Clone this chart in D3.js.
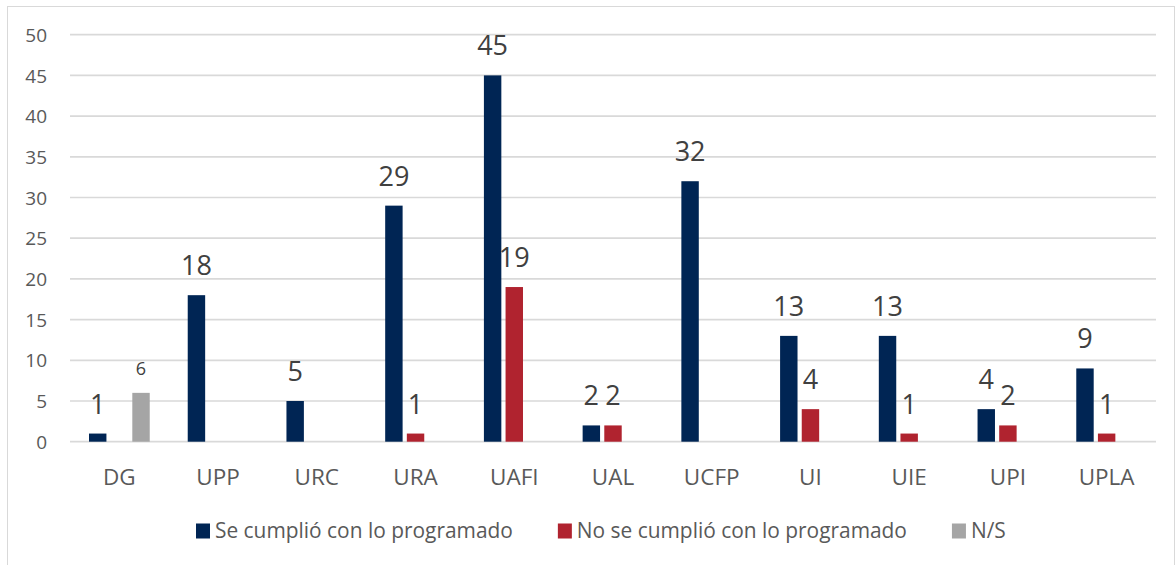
<!DOCTYPE html>
<html>
<head>
<meta charset="utf-8">
<script src="https://cdn.jsdelivr.net/npm/d3@7"></script>
<style>
  html, body { margin: 0; padding: 0; background: #fff; }
  svg { display: block; }
</style>
</head>
<body>
<svg id="chart" width="1176" height="565"></svg>
<script>
const categories = ["DG", "UPP", "URC", "URA", "UAFI", "UAL", "UCFP", "UI", "UIE", "UPI", "UPLA"];
const seriesNames = ["Se cumplió con lo programado", "No se cumplió con lo programado", "N/S"];
const cumplio   = [1, 18, 5, 29, 45, 2, 32, 13, 13, 4, 9];
const noCumplio = [null, null, null, 1, 19, 2, null, 4, 1, 2, 1];
const noSabe    = [6, null, null, null, null, null, null, null, null, null, null];
const yTicks = [0, 5, 10, 15, 20, 25, 30, 35, 40, 45, 50];

const colors = ["#002554", "#B0232F", "#A5A5A5"];
const seriesValues = [cumplio, noCumplio, noSabe];

const svg = d3.select("#chart");
const font = "'Open Sans', 'Noto Sans', sans-serif";

// chart frame
svg.append("rect")
  .attr("x", 7.5).attr("y", 6.5)
  .attr("width", 1167).attr("height", 570)
  .attr("fill", "#fff").attr("stroke", "#D9D9D9").attr("stroke-width", 1);

const plot = { left: 70, right: 1156, top: 34.7, bottom: 441.7 };

const x0 = d3.scaleBand().domain(categories).range([plot.left, plot.right]).paddingInner(0).paddingOuter(0);
const bw = x0.bandwidth();
const x1 = d3.scaleBand().domain(seriesNames).range([19, bw - 19]).paddingInner(0.195).paddingOuter(0);
const y = d3.scaleLinear().domain([0, 50]).range([plot.bottom, plot.top]);

// gridlines
svg.append("g").selectAll("line").data(yTicks).join("line")
  .attr("x1", plot.left).attr("x2", plot.right)
  .attr("y1", d => y(d)).attr("y2", d => y(d))
  .attr("stroke", "#D9D9D9").attr("stroke-width", 1.7);

// y axis labels
const yAxis = d3.axisLeft(y).tickValues(yTicks).tickSize(0).tickPadding(0);
const yg = svg.append("g").attr("transform", `translate(47,0)`).call(yAxis);
yg.select(".domain").remove();
yg.selectAll("text").attr("font-family", font).attr("font-size", 19).attr("fill", "#595959").attr("dy", "0.35em");

// x axis labels
const xAxis = d3.axisBottom(x0).tickSize(0).tickPadding(0);
const xg = svg.append("g").attr("transform", `translate(0,${plot.bottom})`).call(xAxis);
xg.select(".domain").remove();
xg.selectAll("text").attr("font-family", font).attr("font-size", 22.5).attr("fill", "#595959")
  .attr("y", 43.3).attr("dy", 0);

// bars
const barData = [];
seriesNames.forEach((s, si) => {
  categories.forEach((c, ci) => {
    const v = seriesValues[si][ci];
    if (v !== null && v !== undefined) barData.push({ cat: c, series: s, si, value: v });
  });
});

svg.append("g").selectAll("rect").data(barData).join("rect")
  .attr("x", d => x0(d.cat) + x1(d.series))
  .attr("y", d => y(d.value))
  .attr("width", x1.bandwidth())
  .attr("height", d => y(0) - y(d.value))
  .attr("fill", d => colors[d.si]);

// value labels
svg.append("g").selectAll("text").data(barData).join("text")
  .attr("x", d => x0(d.cat) + x1(d.series) + x1.bandwidth() / 2)
  .attr("y", d => y(d.value) - (d.si === 2 ? 18 : 20))
  .attr("text-anchor", "middle")
  .attr("font-family", font)
  .attr("font-size", d => d.si === 2 ? 18 : 27)
  .attr("fill", "#404040")
  .text(d => d.value);

// legend
const legend = svg.append("g");
const legendFont = 20.9;
let lx = 196;
const ly = 531;
seriesNames.forEach((s, i) => {
  const g = legend.append("g");
  g.append("rect").attr("x", lx).attr("y", ly - 7.5).attr("width", 14).attr("height", 15).attr("fill", colors[i]);
  const t = g.append("text").attr("x", lx + 19).attr("y", ly).attr("dy", "0.35em")
    .attr("font-family", font).attr("font-size", legendFont).attr("fill", "#595959").text(s);
  const w = t.node().getComputedTextLength();
  lx = lx + 19 + w + 45;
});
</script>
</body>
</html>
